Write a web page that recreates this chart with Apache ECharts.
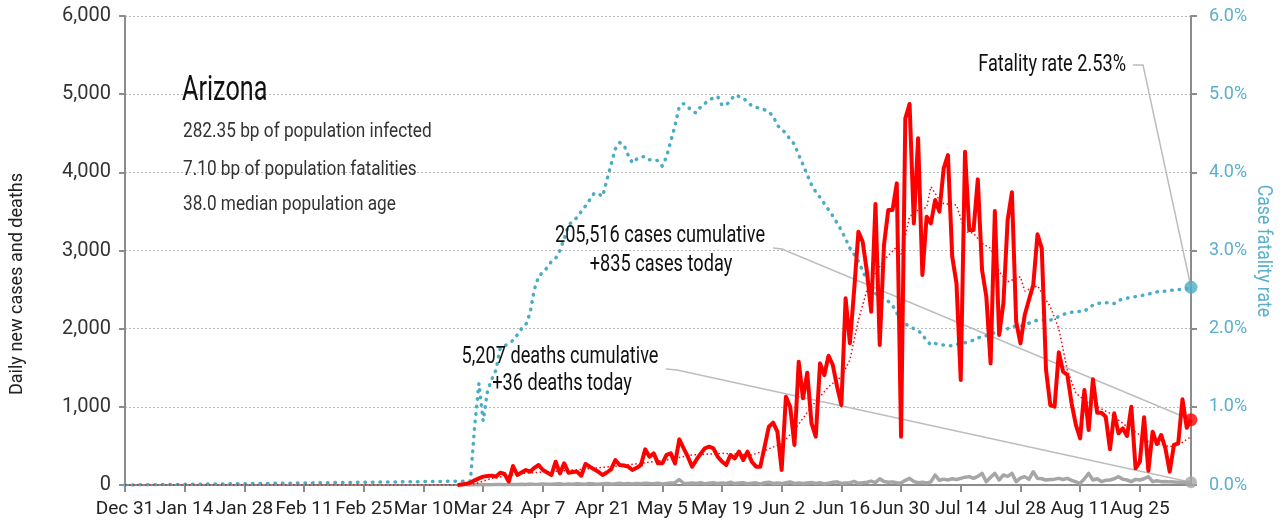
<!DOCTYPE html>
<html>
<head>
<meta charset="utf-8">
<script src="https://cdn.jsdelivr.net/npm/echarts@6/dist/echarts.min.js"></script>
<style>
html, body { margin: 0; padding: 0; background: #fff; }
#main { width: 1281px; height: 524px; }
</style>
</head>
<body>
<div id="main"></div>
<script>
const FONT = 'Roboto, "Liberation Sans", sans-serif';

// x axis is days since Dec 31
const tickLabels = ["Dec 31", "Jan 14", "Jan 28", "Feb 11", "Feb 25", "Mar 10", "Mar 24", "Apr 7",
  "Apr 21", "May 5", "May 19", "Jun 2", "Jun 16", "Jun 30", "Jul 14", "Jul 28", "Aug 11", "Aug 25"];

// daily new cases, from day 78
const casesStart = 78;
const dailyCases = [
  0, 5, 15, 30, 60, 85, 107, 115, 120, 107, 158, 141, 43, 243, 128, 160, 192, 171, 220, 256,
  192, 160, 128, 298, 149, 277, 158, 165, 171, 119, 269, 235, 200, 170, 128, 160, 200, 320, 256, 250,
  235, 192, 220, 256, 456, 362, 405, 277, 277, 384, 405, 277, 584, 470, 362, 235, 320, 400, 470, 490,
  469, 362, 300, 256, 384, 341, 426, 320, 426, 298, 235, 235, 490, 746, 797, 682, 192, 1130, 1002, 512,
  1578, 1109, 1437, 789, 618, 1556, 1407, 1654, 1535, 1258, 1023, 2388, 1812, 2494, 3241, 3113, 2729, 2217, 3595, 1791,
  3070, 3518, 3518, 3859, 618, 4690, 4874, 3347, 4435, 2686, 3433, 3347, 3646, 3497, 4051, 4221, 2921, 2580, 1343, 4264,
  3262, 3262, 3910, 2750, 2409, 1556, 3505, 1919, 2324, 3390, 3744, 2089, 1812, 2175, 2370, 2558, 3207, 3027, 1471, 1023,
  1002, 1697, 1450, 1407, 1045, 768, 597, 1215, 704, 1352, 925, 925, 874, 456, 917, 661, 725, 627, 1002, 213,
  298, 866, 183, 682, 524, 640, 469, 171, 512, 533, 1096, 733, 835
];

// daily deaths, from day 80
const deathsStart = 80;
const dailyDeaths = [
  0, 1, 2, 3, 2, 4, 3, 5, 6, 4, 8, 5, 7, 10, 6, 12, 8, 10, 14, 9,
  10, 12, 15, 8, 14, 11, 16, 12, 10, 18, 14, 9, 15, 20, 12, 16, 22, 14, 18, 12,
  20, 15, 24, 18, 16, 22, 14, 20, 26, 30, 70, 22, 18, 25, 20, 28, 15, 22, 30, 18,
  25, 20, 35, 18, 25, 30, 15, 22, 28, 12, 30, 35, 20, 25, 18, 30, 38, 20, 27, 18,
  25, 32, 20, 28, 15, 22, 35, 40, 20, 25, 30, 45, 22, 28, 35, 50, 30, 80, 45, 35,
  40, 30, 25, 60, 85, 45, 30, 35, 25, 40, 128, 60, 75, 65, 80, 70, 85, 100, 107, 85,
  110, 149, 43, 100, 149, 64, 128, 110, 149, 43, 90, 107, 72, 170, 85, 80, 64, 70, 75, 85,
  70, 85, 60, 40, 21, 80, 149, 64, 80, 43, 60, 64, 80, 107, 75, 64, 43, 72, 64, 80,
  107, 43, 55, 43, 45, 40, 38, 35, 34, 30, 36
];

// smoothed cases (thin dotted red)
const maDays = [0, 79, 82, 86, 93, 100, 107, 114, 121, 127, 133, 140, 147, 150, 154, 157, 161, 165, 168, 170,
  172, 174, 176, 178, 181, 182, 184, 186, 188, 189, 191, 192, 195, 197, 199, 201, 203, 205, 207, 210,
  211, 214, 217, 219, 221, 223, 226, 228, 231, 233, 235, 238, 240, 242, 245, 247, 250];
const maValues = [0, 0, 13, 85, 149, 171, 200, 235, 277, 320, 384, 405, 384, 440, 530, 704, 1002, 1258, 1386, 1600,
  2111, 2494, 2708, 2878, 3049, 2950, 3433, 3518, 3550, 3816, 3646, 3600, 3582, 3240, 3220, 3090, 3028, 2730, 2600, 2665,
  2480, 2550, 2280, 2000, 1471, 1173, 1045, 1002, 917, 831, 746, 640, 554, 533, 490, 512, 618];

// case fatality rate in %, from day 81
const cfrStart = 81;
const cfrValues = [
  0.05, 0.75, 1.3, 0.82, 1.2, 1.35, 1.47, 1.75, 1.78, 1.81,
  1.85, 1.92, 2.0, 2.05, 2.2, 2.5, 2.67, 2.72, 2.78, 2.86,
  2.9, 3.0, 3.15, 3.32, 3.38, 3.42, 3.5, 3.57, 3.65, 3.73,
  3.73, 3.69, 3.9, 4.1, 4.3, 4.38, 4.35, 4.22, 4.12, 4.17,
  4.2, 4.2, 4.16, 4.16, 4.15, 4.08, 4.2, 4.4, 4.6, 4.84,
  4.88, 4.84, 4.78, 4.76, 4.84, 4.88, 4.93, 4.95, 4.97, 4.86,
  4.86, 4.92, 4.99, 4.97, 4.95, 4.9, 4.85, 4.83, 4.82, 4.8,
  4.77, 4.72, 4.6, 4.55, 4.5, 4.42, 4.36, 4.22, 4.1, 3.97,
  3.84, 3.75, 3.68, 3.6, 3.52, 3.44, 3.35, 3.26, 3.15, 3.03,
  2.95, 2.86, 2.74, 2.62, 2.52, 2.45, 2.41, 2.39, 2.35, 2.3,
  2.2, 2.11, 2.06, 2.03, 2.0, 1.98, 1.92, 1.85, 1.79, 1.81,
  1.8, 1.79, 1.78, 1.78, 1.8, 1.81, 1.82, 1.84, 1.85, 1.88,
  1.9, 1.91, 1.93, 1.95, 1.97, 1.99, 2.0, 2.03, 2.03, 2.03,
  2.05, 2.07, 2.09, 2.11, 2.11, 2.11, 2.11, 2.12, 2.16, 2.18,
  2.2, 2.21, 2.22, 2.22, 2.22, 2.27, 2.3, 2.32, 2.33, 2.33,
  2.33, 2.32, 2.36, 2.38, 2.39, 2.4, 2.41, 2.42, 2.43, 2.44,
  2.46, 2.47, 2.48, 2.48, 2.49, 2.49, 2.5, 2.5, 2.51, 2.53
];

const RED = "#ff0000";
const BLUE = "#4bacc6";
const GREY = "#a6a6a6";
const AXIS = "#8c8c8c";

const casesData = dailyCases.map((v, i) => [casesStart + i, v]);
const deathsData = dailyDeaths.map((v, i) => [deathsStart + i, v]);
const maData = maDays.map((d, i) => [d, maValues[i]]);
const cfrData = [[0, 0]].concat(cfrValues.map((v, i) => [cfrStart + i, v]));

const lastCase = casesData[casesData.length - 1];
const lastDeath = deathsData[deathsData.length - 1];
const lastCfr = cfrData[cfrData.length - 1];

var myChart = echarts.init(document.getElementById("main"));

var option = {
  animation: false,
  textStyle: { fontFamily: FONT },
  grid: { left: 125, right: 90, top: 16, bottom: 39 },
  xAxis: {
    type: "value",
    min: 0,
    max: 250,
    interval: 14,
    axisLine: { lineStyle: { color: AXIS, width: 2 } },
    axisTick: { show: true, length: 7, lineStyle: { color: AXIS, width: 2 } },
    axisLabel: {
      color: "#222", fontSize: 19, margin: 15, fontFamily: FONT,
      showMaxLabel: false,
      formatter: v => tickLabels[v / 14] || ""
    },
    splitLine: { show: false }
  },
  yAxis: [{
    type: "value",
    min: 0,
    max: 6000,
    interval: 1000,
    axisLine: { show: true, lineStyle: { color: AXIS, width: 2 } },
    axisTick: { show: true, length: 6, lineStyle: { color: AXIS, width: 2 } },
    axisLabel: {
      color: "#333", fontSize: 20, margin: 14, fontFamily: FONT,
      formatter: v => v.toLocaleString("en-US")
    },
    splitLine: { show: true, lineStyle: { color: "#b8b8b8", width: 1, type: [2, 2] } }
  }, {
    type: "value",
    min: 0,
    max: 6,
    interval: 1,
    position: "right",
    axisLine: { show: true, lineStyle: { color: AXIS, width: 2 } },
    axisTick: { show: true, length: 6, lineStyle: { color: AXIS, width: 2 } },
    axisLabel: {
      color: "#5aafcb", fontSize: 18, margin: 18, fontFamily: FONT,
      formatter: v => v.toFixed(1) + "%"
    },
    splitLine: { show: false }
  }],
  series: [{
    name: "deaths",
    type: "line",
    data: deathsData,
    showSymbol: false,
    lineStyle: { color: GREY, width: 3.5, join: "round" },
    z: 2
  }, {
    name: "cfr",
    type: "line",
    yAxisIndex: 1,
    data: cfrData,
    showSymbol: false,
    lineStyle: { color: BLUE, width: 3.5, type: [0.5, 7], cap: "round" },
    z: 3
  }, {
    name: "cases avg",
    type: "line",
    data: maData,
    showSymbol: false,
    lineStyle: { color: RED, width: 1.5, type: [1.5, 2.5] },
    z: 4
  }, {
    name: "cases",
    type: "line",
    data: casesData,
    showSymbol: false,
    lineStyle: { color: RED, width: 4, join: "round" },
    z: 5
  }, {
    type: "scatter",
    data: [lastDeath],
    symbolSize: 12,
    itemStyle: { color: GREY },
    z: 6
  }, {
    type: "scatter",
    data: [lastCase],
    symbolSize: 13,
    itemStyle: { color: RED },
    z: 7
  }, {
    type: "scatter",
    yAxisIndex: 1,
    data: [lastCfr],
    symbolSize: 13,
    itemStyle: { color: BLUE },
    z: 7
  }]
};

myChart.setOption(option);

// annotations and leader lines
const pCase = myChart.convertToPixel({ xAxisIndex: 0, yAxisIndex: 0 }, lastCase);
const pDeath = myChart.convertToPixel({ xAxisIndex: 0, yAxisIndex: 0 }, lastDeath);
const pCfr = myChart.convertToPixel({ xAxisIndex: 0, yAxisIndex: 1 }, lastCfr);

// the original face is condensed, so squeeze Roboto horizontally
function txt(x, y, s, size, align, color, sx, rot) {
  return {
    type: "text", x: x, y: y, z: 10, scaleX: sx, rotation: rot || 0,
    style: { text: s, fontSize: size, fontFamily: FONT, fill: color || "#111",
      align: align || "left", verticalAlign: "middle" }
  };
}
function leader(points) {
  return {
    type: "polyline", z: 1,
    shape: { points: points },
    style: { stroke: "#bdbdbd", lineWidth: 1.5, fill: null }
  };
}

myChart.setOption({
  graphic: [
    leader([[773, 248], [782, 249], pCase]),
    leader([[666, 369], [677, 370], pDeath]),
    leader([[1133, 65], [1143, 65], pCfr]),
    txt(182, 91, "Arizona", 35, "left", "#111", 0.72),
    txt(183, 132, "282.35 bp of population infected", 21, "left", "#333", 0.82),
    txt(183, 170, "7.10 bp of population fatalities", 21, "left", "#333", 0.82),
    txt(183, 205, "38.0 median population age", 21, "left", "#333", 0.82),
    txt(660, 236, "205,516 cases cumulative", 23, "center", "#111", 0.79),
    txt(661, 265, "+835 cases today", 23, "center", "#111", 0.79),
    txt(560, 357, "5,207 deaths cumulative", 23, "center", "#111", 0.79),
    txt(562, 384, "+36 deaths today", 23, "center", "#111", 0.79),
    txt(1126, 65, "Fatality rate 2.53%", 23, "right", "#111", 0.79),
    txt(17, 284, "Daily new cases and deaths", 19, "center", "#222", 0.95, Math.PI / 2),
    txt(1263, 251, "Case fatality rate", 21, "center", "#5aafcb", 0.84, -Math.PI / 2)
  ]
});
</script>
</body>
</html>
